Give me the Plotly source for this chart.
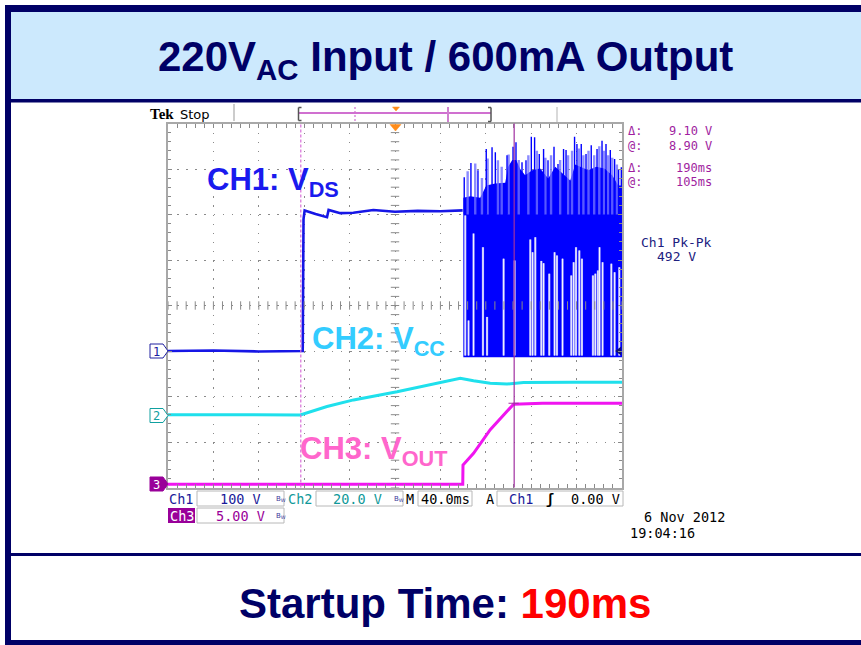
import numpy as np
import plotly.graph_objects as go

W, H = 861, 645

# ---------------- data (time in ms, voltages in V) ----------------
# CH1: V_DS before switching starts
ch1_t = [-200, -160, -120, -90, -81.3, -80.6, -79.6, -70.0, -59.9, -58.5, -48.2, -36.7, -19.1, 0.0, 20.0, 40.0, 59.6]
ch1_v = [0, 1, -1, 0, 0, 290, 309, 301, 294, 310, 303, 304, 310, 306, 308, 307, 309]

# CH1: switching burst (dense envelope)
sw_t = [60.2, 66.3, 75.1, 80.4, 88.3, 97.1, 99.7, 103.3, 106.8, 110.3, 114.7, 120.9, 127.9,
        135.0, 141.2, 147.3, 154.4, 158.8, 163.2, 170.3, 177.3, 184.4, 191.4, 196.7, 200.0]
sw_top = [337, 340, 337, 364, 368, 370, 405, 420, 420, 400, 386, 397, 401,
          379, 405, 392, 375, 410, 405, 397, 405, 401, 386, 364, 364]
sw_bottom = -14

# CH1: individual spikes above the envelope
spk_t = [61.0, 66.9, 73.1, 80.4, 85.5, 88.4, 98.7, 104.0, 106.6, 111.9, 115.4, 120.1, 123.0, 127.1,
         130.9, 134.8, 140.1, 143.6, 148.5, 150.7, 158.2, 160.3, 164.1, 168.3, 172.9, 178.0, 182.4,
         185.9, 189.7, 193.5, 197.0, 199.4]
spk_v = [382, 413, 397, 444, 448, 437, 430, 449, 459, 415, 419, 471, 470, 433,
         444, 419, 449, 411, 444, 442, 471, 455, 455, 433, 452, 444, 462,
         455, 442, 422, 400, 404]
halo_t = [64.0, 70.7, 76.6, 81.6, 90.7, 94.0, 100.1, 109.0, 117.5, 125.0, 132.5, 137.5, 145.5,
          152.5, 156.0, 162.0, 166.0, 170.5, 175.5, 180.0, 184.0, 187.8, 191.4, 195.5]
halo_v = [395, 412, 380, 423, 419, 405, 432, 420, 430, 440, 425, 430, 420,
          430, 440, 445, 430, 440, 430, 450, 440, 430, 425, 410]

# CH1: low excursions (light gaps inside the burst)
gap_t = [61.9, 64.8, 69.2, 77.5, 81.1, 95.7, 105.4, 119.2, 121.2, 123.6, 128.9, 130.9, 135.9, 140.6,
         142.7, 147.6, 155.3, 157.4, 159.5, 162.4, 164.7, 174.4, 176.5, 178.8, 180.2, 182.9, 190.6,
         193.5, 197.6]
gap_v = [298, 67, 258, 228, 75, 203, 199, 245, 217, 250, 198, 193, 170, 217,
         210, 203, 166, 195, 228, 221, 203, 166, 170, 177, 228, 195, 192,
         173, 184]
gap_base = -10

# CH2: V_CC
ch2_t = [-200, -150, -100, -90, -83.4, -59.9, -36.5, 1.8, 39.9, 57.5, 69.2, 83.9, 98.7, 113.3, 157.3, 200]
ch2_v = [0.3, 0.3, 0.2, 0.0, 0.2, 3.9, 6.8, 10.4, 14.4, 16.3, 15.2, 14.1, 13.8, 14.4, 14.6, 14.6]

# CH3: V_OUT
ch3_t = [-200, 59.7, 59.9, 69.2, 83.9, 104.5, 130, 160, 200]
ch3_v = [0, 0, 2.1, 3.4, 6.0, 8.8, 8.9, 8.9, 8.9]

# cursors (ms)
cursor_t = [-83, 105]

# scope settings
t_range = [-200, 200]
ch1_range = [-300, 500]      # 100 V/div
ch2_range = [-31.7, 128.3]   # 20 V/div
ch3_range = [-0.36, 39.64]   # 5 V/div

# ---------------- colours ----------------
NAVY = "#000066"
C1 = "#1616e6"
C1F = "#0000ff"
C2 = "#1fe0ec"
C3 = "#f014f0"
PURP = "#a01ea0"
GRID = "#8a8a8a"


def segs(ts, tops, base):
    xs, ys = [], []
    for t, v in zip(ts, tops):
        xs += [t, t, None]
        ys += [base, v, None]
    return xs, ys


fig = go.Figure()

# CH1
fig.add_trace(go.Scatter(x=ch1_t, y=ch1_v, mode="lines", line=dict(color=C1, width=2.6), yaxis="y"))
fig.add_trace(go.Scatter(x=sw_t + sw_t[::-1], y=sw_top + [sw_bottom] * len(sw_t), mode="lines",
                         fill="toself", fillcolor=C1F, line=dict(width=0, color=C1F), yaxis="y"))
hx, hy = segs(halo_t, halo_v, 300)
fig.add_trace(go.Scatter(x=hx, y=hy, mode="lines", line=dict(color="rgba(110,110,255,0.8)", width=2.4), yaxis="y"))
sx, sy = segs(spk_t, spk_v, 300)
fig.add_trace(go.Scatter(x=sx, y=sy, mode="lines", line=dict(color=C1F, width=1.4), yaxis="y"))
gx, gy = segs(gap_t, gap_v, gap_base)
fig.add_trace(go.Scatter(x=gx, y=gy, mode="lines", line=dict(color="#a8a8ff", width=2.2), yaxis="y"))
fig.add_trace(go.Scatter(x=gx, y=gy, mode="lines", line=dict(color="#ffffff", width=0.9), yaxis="y"))

# graticule centre-line ticks
cx = np.arange(t_range[0], t_range[1] + 0.1, 8)
fig.add_trace(go.Scatter(x=cx, y=[sum(ch1_range) / 2] * len(cx), mode="markers",
                         marker=dict(symbol="line-ns-open", size=6, color=GRID, line=dict(color=GRID, width=1)),
                         yaxis="y"))
cy = np.arange(ch1_range[0], ch1_range[1] + 0.1, 20)
fig.add_trace(go.Scatter(x=[0] * len(cy), y=cy, mode="markers",
                         marker=dict(symbol="line-ew-open", size=6, color=GRID, line=dict(color=GRID, width=1)),
                         yaxis="y"))
# trigger level marker
fig.add_trace(go.Scatter(x=[197.5], y=[0], mode="markers", cliponaxis=False,
                         marker=dict(symbol="triangle-left", size=8, color="#101070"), yaxis="y"))

# CH2, CH3
fig.add_trace(go.Scatter(x=ch2_t, y=ch2_v, mode="lines", line=dict(color=C2, width=3), yaxis="y2"))
fig.add_trace(go.Scatter(x=ch3_t, y=ch3_v, mode="lines", line=dict(color=C3, width=3), yaxis="y3"))

# ---------------- geometry helpers ----------------
def PX(x):
    return x / W


def PY(y):
    return 1 - y / H


shapes = []


def rect(x0, y0, x1, y1, fill=None, line=None, lw=1, layer="above"):
    shapes.append(dict(type="rect", xref="paper", yref="paper", x0=PX(x0), x1=PX(x1), y0=PY(y1), y1=PY(y0),
                       fillcolor=fill if fill else "rgba(0,0,0,0)",
                       line=dict(color=line if line else "rgba(0,0,0,0)", width=lw if line else 0),
                       layer=layer))


def seg(x0, y0, x1, y1, color, w=1, dash="solid"):
    shapes.append(dict(type="line", xref="paper", yref="paper", x0=PX(x0), x1=PX(x1), y0=PY(y0), y1=PY(y1),
                       line=dict(color=color, width=w, dash=dash), layer="above"))


def path(pts, fill, line, lw=1):
    d = "M " + " L ".join(f"{PX(x)},{PY(y)}" for x, y in pts) + " Z"
    shapes.append(dict(type="path", xref="paper", yref="paper", path=d, fillcolor=fill,
                       line=dict(color=line, width=lw), layer="above"))


ann = []


def txt(x, y, s, size, color, family="DejaVu Sans Mono", xa="left", ya="middle", bg=None):
    a = dict(x=PX(x), y=PY(y), xref="paper", yref="paper", text=s, showarrow=False,
             font=dict(size=size, color=color, family=family), xanchor=xa, yanchor=ya, borderpad=0)
    if bg:
        a["bgcolor"] = bg
    ann.append(a)


# slide frame
rect(11, 12, 861, 99, fill="#cce9fd", layer="below")
rect(5, 5, 861, 12, fill=NAVY)
rect(5, 5, 11, 645, fill=NAVY)
rect(11, 99, 861, 102.5, fill=NAVY)
rect(11, 553, 861, 556, fill=NAVY)
rect(5, 640, 861, 645, fill=NAVY)

# cursors (data x)
shapes.append(dict(type="line", xref="x", yref="y domain", x0=cursor_t[0], x1=cursor_t[0], y0=0, y1=1,
                   line=dict(color="#d870d8", width=1.2, dash="3px,2px"), layer="above"))
shapes.append(dict(type="line", xref="x", yref="y domain", x0=cursor_t[1], x1=cursor_t[1], y0=0, y1=1,
                   line=dict(color="#a030a0", width=1.2), layer="above"))
shapes.append(dict(type="line", xref="x", yref="y3", x0=cursor_t[1] - 5, x1=cursor_t[1] + 4, y0=ch3_v[-1],
                   y1=ch3_v[-1], line=dict(color="#a030a0", width=1.2), layer="above"))

# top status line of scope
seg(234, 104, 234, 121, "#999999", 1)
seg(557, 107, 557, 122, "#cccccc", 1.5)
seg(298.5, 113, 491, 113, "#c040c0", 1.5)
seg(298.5, 107.5, 298.5, 120.5, "#555555", 1.5)
seg(298.5, 107.5, 301.5, 107.5, "#555555", 1.5)
seg(298.5, 120.5, 301.5, 120.5, "#555555", 1.5)
seg(491, 107.5, 491, 121.5, "#555555", 1.5)
seg(488, 107.5, 491, 107.5, "#555555", 1.5)
seg(488, 121.5, 491, 121.5, "#555555", 1.5)
seg(355, 107, 355, 122, "#d070d0", 1.2, "2px,2px")
seg(448, 107, 448, 122, "#d080d0", 2)
path([(392.5, 107), (399.5, 107), (396, 111)], "#ff8c1a", "#ff8c1a", 0.5)
path([(390, 124.5), (401, 124.5), (395.5, 131)], "#ff8c1a", "#ff8c1a", 0.5)

# channel ground markers
path([(150, 344), (163, 344), (168, 351), (163, 358), (150, 358)], "#ffffff", "#2020a0", 1)
path([(150, 408.5), (163, 408.5), (168, 415.5), (163, 422.5), (150, 422.5)], "#ffffff", "#10a0a0", 1)
path([(150, 477), (163, 477), (168, 484), (163, 491), (150, 491)], "#990099", "#990099", 1)
txt(156.5, 351.5, "1", 12, "#2020a0", xa="center")
txt(156.5, 416, "2", 12, "#10a0a0", xa="center")
txt(156.5, 484.5, "3", 12, "#ffffff", xa="center")

# bottom readout boxes
BOX = "#b8b8b8"
rect(197, 491, 284, 506, line=BOX)
rect(316, 491, 403, 506, line=BOX)
rect(418, 491, 472, 506, line=BOX)
rect(497, 491, 623, 506, line=BOX)
rect(197, 508, 284, 523, line=BOX)
rect(168, 508, 195, 523, fill="#990099")

txt(168, 498.5, "Ch1", 13.5, "#1a1a9a")
txt(241, 498.5, "100 V", 13.5, "#1a1a9a", xa="center")
txt(281, 498.5, "B<sub>W</sub>", 7, "#3a3a9a", family="DejaVu Sans", xa="center")
txt(287, 498.5, "Ch2", 13.5, "#109999")
txt(357, 498.5, "20.0 V", 13.5, "#109999", xa="center")
txt(399, 498.5, "B<sub>W</sub>", 7, "#3a3a9a", family="DejaVu Sans", xa="center")
txt(405, 498.5, "M", 13.5, "#000000")
txt(445, 498.5, "40.0ms", 13.5, "#000000", xa="center")
txt(485, 498.5, "A", 13.5, "#000000")
txt(508, 498.5, "Ch1", 13.5, "#1a1a9a")
txt(550, 498.5, "<b>ʃ</b>", 13.5, "#000000", xa="center")
txt(621, 498.5, "0.00 V", 13.5, "#000000", xa="right")
txt(168.5, 515.5, "Ch3", 13.5, "#ffffff")
txt(241, 515.5, "5.00 V", 13.5, "#990099", xa="center")
txt(281, 515.5, "B<sub>W</sub>", 7, "#3a3a9a", family="DejaVu Sans", xa="center")

# date
txt(684, 517, "6 Nov 2012", 13.5, "#000000", xa="center")
txt(662, 533, "19:04:16", 13.5, "#000000", xa="center")

# Tek header
txt(149, 114, "<b>Tek</b>", 15, "#000000", family="Liberation Serif")
txt(179, 114, "Stop", 13, "#000000", family="DejaVu Sans")

# right readouts
txt(627, 131.5, "Δ:", 12, PURP)
txt(713, 131.5, "9.10 V", 12, PURP, xa="right")
txt(627, 145.5, "@:", 12, PURP)
txt(713, 145.5, "8.90 V", 12, PURP, xa="right")
txt(627, 168.5, "Δ:", 12, PURP)
txt(713, 168.5, "190ms", 12, PURP, xa="right")
txt(627, 182, "@:", 12, PURP)
txt(713, 182, "105ms", 12, PURP, xa="right")
txt(676, 242, "Ch1 Pk-Pk", 13, "#202080", xa="center")
txt(676, 256, "492 V", 13, "#202080", xa="center")

# channel labels
SANS = "Liberation Sans"
txt(206, 182, "<b>CH1: V<sub>DS</sub></b>", 31, "#1a1aee", family=SANS)
txt(311, 341, "<b>CH2: V<sub>CC</sub></b>", 31, "#33ccff", family=SANS)
txt(299, 451, "<b>CH3: V<sub>OUT</sub></b>", 31, "#ff66cc", family=SANS)

# slide titles
txt(445, 60, "<b>220V<sub>AC</sub> Input / 600mA Output</b>", 42, NAVY, family=SANS, xa="center")
txt(445, 603, "<b>Startup Time: <span style='color:#ff0000'>190ms</span></b>", 42, NAVY, family=SANS,
    xa="center")

axis_common = dict(showticklabels=False, zeroline=False, showline=True, linecolor="#a8a8a8", linewidth=2,
                   mirror="allticks", ticks="inside", ticklen=4, tickcolor=GRID, tickwidth=1,
                   showgrid=True, gridcolor=GRID, gridwidth=1, griddash="1.5px,7.6px", fixedrange=True)

fig.update_layout(
    width=W, height=H, margin=dict(l=0, r=0, t=0, b=0),
    paper_bgcolor="#ffffff", plot_bgcolor="#ffffff", showlegend=False,
    xaxis=dict(domain=[168 / W, 622 / W], range=t_range, dtick=40, tick0=-200,
               minor=dict(dtick=8, tick0=-200, ticks="inside", ticklen=3, tickcolor=GRID, showgrid=False),
               **axis_common),
    yaxis=dict(domain=[1 - 487.5 / H, 1 - 123.5 / H], range=ch1_range, dtick=100, tick0=-300,
               minor=dict(dtick=20, tick0=-300, ticks="inside", ticklen=3, tickcolor=GRID, showgrid=False),
               **axis_common),
    yaxis2=dict(overlaying="y", range=ch2_range, visible=False, fixedrange=True),
    yaxis3=dict(overlaying="y", range=ch3_range, visible=False, fixedrange=True),
    shapes=shapes, annotations=ann,
)

fig.write_html("out.html")
